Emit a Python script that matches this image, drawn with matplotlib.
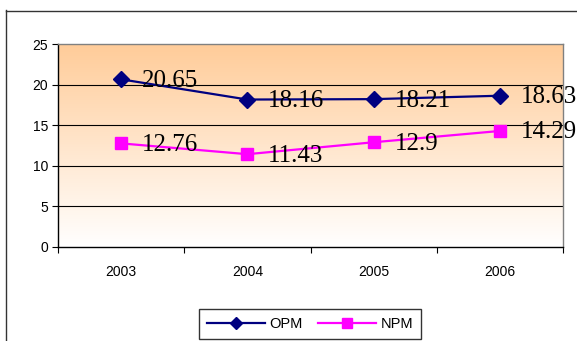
import numpy as np
import matplotlib
matplotlib.use("Agg")
import matplotlib.pyplot as plt
from matplotlib.lines import Line2D

years = ["2003", "2004", "2005", "2006"]
opm = [20.65, 18.16, 18.21, 18.63]
npm = [12.76, 11.43, 12.9, 14.29]
y_ticks = [0, 5, 10, 15, 20, 25]

W, H = 577, 341
fig = plt.figure(figsize=(W / 100, H / 100), dpi=100)
fig.patch.set_facecolor("white")

# plot area in pixel coordinates
left, right, top, bottom = 58, 563, 44, 247
ax = fig.add_axes([left / W, (H - bottom) / H, (right - left) / W, (bottom - top) / H])

x = np.arange(len(years))
ax.set_xlim(-0.5, len(years) - 0.5)
ax.set_ylim(0, 25)

# vertical orange-to-white gradient background
top_c = np.array([255, 204, 153]) / 255
bot_c = np.array([255, 255, 255]) / 255
t = np.linspace(0, 1, 256)[:, None]
grad = top_c * (1 - t) + bot_c * t
grad = grad[:, None, :]
ax.imshow(grad, extent=[-0.5, len(years) - 0.5, 0, 25], aspect="auto",
          origin="upper", zorder=0, interpolation="bilinear")

for gy in y_ticks[1:-1]:
    ax.axhline(gy, color="black", lw=0.8, zorder=1)

ax.plot(x, opm, color="#000080", lw=1.6, marker="D", ms=8,
        label="OPM", zorder=3, clip_on=False)
ax.plot(x, npm, color="#FF00FF", lw=1.6, marker="s", ms=9,
        label="NPM", zorder=3, clip_on=False)

for series in (opm, npm):
    for xi, v in zip(x, series):
        ax.annotate(f"{v:g}", (xi, v), xytext=(15, -1), textcoords="offset points",
                    ha="left", va="center", fontsize=18, family="Liberation Serif",
                    color="black", zorder=4, annotation_clip=False)

# axes frame
for s in ["left", "bottom"]:
    ax.spines[s].set_color("black")
    ax.spines[s].set_linewidth(1.0)
for s in ["top", "right"]:
    ax.spines[s].set_color("#808080")
    ax.spines[s].set_linewidth(1.0)

ax.set_yticks(y_ticks)
ax.set_yticklabels([str(v) for v in y_ticks], fontsize=10, family="Liberation Sans")
ax.tick_params(axis="y", direction="out", length=4, width=0.8, pad=3, colors="black")

ax.set_xticks(np.arange(-0.5, len(years), 1.0))
ax.set_xticklabels([])
ax.tick_params(axis="x", which="major", direction="out", length=4, width=0.8)
ax.set_xticks(x, minor=True)
ax.set_xticklabels(years, minor=True, fontsize=10, family="Liberation Sans")
ax.tick_params(axis="x", which="minor", length=0, pad=13)

leg = fig.legend(loc="center", bbox_to_anchor=(310 / W, (H - 324) / H),
                 ncol=2, frameon=True, fancybox=False, edgecolor="black",
                 prop={"family": "Liberation Sans", "size": 10.5},
                 handlelength=4, handletextpad=0.3, columnspacing=1.0,
                 borderpad=0.55, borderaxespad=0)
leg.get_frame().set_linewidth(1.0)
for h in leg.legend_handles:
    h.set_markersize(6.5)

# outer chart border
fig.add_artist(Line2D([5.5 / W, 5.5 / W], [0, (H - 10) / H], color="#333333",
                      lw=1.0, transform=fig.transFigure))
fig.add_artist(Line2D([5.5 / W, 1], [(H - 10.5) / H, (H - 10.5) / H], color="#333333",
                      lw=1.0, transform=fig.transFigure))

fig.savefig("out.png", dpi=100)
